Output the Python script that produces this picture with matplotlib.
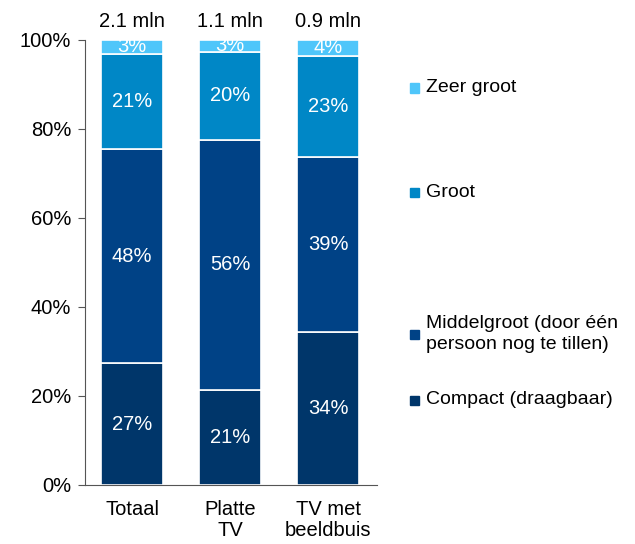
import numpy as np
import matplotlib.pyplot as plt
from matplotlib.patches import Rectangle

plt.rcParams['font.family'] = ['Liberation Sans', 'DejaVu Sans']

categories = ["Totaal", "Platte\nTV", "TV met\nbeeldbuis"]
totals = ["2.1 mln", "1.1 mln", "0.9 mln"]
series = ["Compact (draagbaar)", "Middelgroot (door één\npersoon nog te tillen)", "Groot", "Zeer groot"]
compact = [27.4, 21.4, 34.4]
middel = [48.1, 56.2, 39.2]
groot = [21.4, 19.8, 22.8]
zeer = [3.1, 2.6, 3.6]
colors = ["#00366a", "#004286", "#0087c6", "#4fc6fa"]

fig = plt.figure(figsize=(6.35, 5.44), dpi=100)
ax = fig.add_axes([0.134, 0.1085, 0.46, 0.818])

x = np.arange(len(categories))
bottom = np.zeros(len(categories))
for vals, col in zip([compact, middel, groot, zeer], colors):
    vals = np.array(vals)
    ax.bar(x, vals, 0.635, bottom=bottom, color=col, edgecolor="white", linewidth=1.2)
    for xi, v, b in zip(x, vals, bottom):
        ax.text(xi, b + v / 2, "{:.0f}%".format(v), ha="center", va="center",
                color="white", fontsize=14.5)
    bottom += vals

for xi, t in zip(x, totals):
    ax.text(xi, 104.2, t, ha="center", va="center", fontsize=14.5, clip_on=False)

ax.set_xlim(-0.48, 2.5)
ax.set_ylim(0, 100)
ax.set_yticks(np.arange(0, 101, 20))
ax.set_yticklabels(["{}%".format(v) for v in range(0, 101, 20)], fontsize=14.5)
ax.set_xticks(x)
ax.set_xticklabels(categories, fontsize=14.5, linespacing=1.1)
ax.tick_params(axis="x", length=0, pad=11)
ax.tick_params(axis="y", length=5, color="#555555", direction="out", pad=5)
for s in ["top", "right"]:
    ax.spines[s].set_visible(False)
ax.spines["left"].set_color("#555555")
ax.spines["bottom"].set_color("#555555")

# legend, drawn by hand to get the wide spacing
legend_y = [400, 334, 192, 88]
for name, col, ypx in zip(series, colors, legend_y):
    yf = 1 - ypx / 544
    fig.patches.append(Rectangle((410 / 635, yf - 4.5 / 544), 9 / 635, 9 / 544,
                                 transform=fig.transFigure, color=col))
    fig.text(426 / 635, yf, name, ha="left", va="center", fontsize=14, linespacing=1.3)

plt.savefig("out.png", dpi=100)
